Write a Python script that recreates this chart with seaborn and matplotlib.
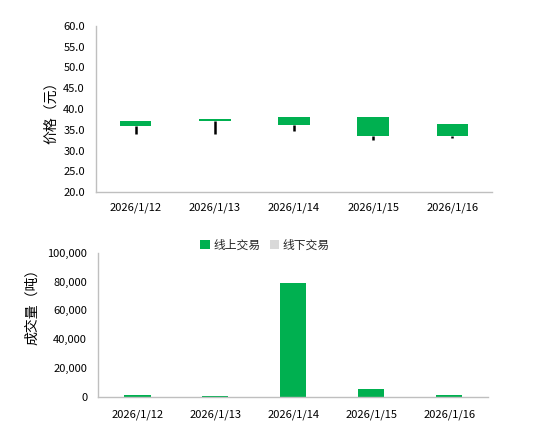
import matplotlib
matplotlib.use("Agg")
import matplotlib.pyplot as plt
import seaborn as sns
import pandas as pd
import numpy as np
from matplotlib.patches import Patch
from matplotlib.ticker import FuncFormatter, FixedLocator

sns.set_style("white")
plt.rcParams['font.family'] = ['Noto Sans CJK SC', 'DejaVu Sans']

dates = ["2026/1/12", "2026/1/13", "2026/1/14", "2026/1/15", "2026/1/16"]
box_top = [37.1, 37.6, 38.1, 38.1, 36.4]
box_bottom = [35.8, 37.2, 36.2, 33.4, 33.4]
low = [34.1, 34.1, 34.6, 32.6, 33.1]
online_vol = [1500, 900, 79000, 5500, 1500]
offline_vol = [0, 0, 0, 0, 0]

green = "#00B050"
grey_legend = "#D9D9D9"
axis_grey = "#BFBFBF"

fig = plt.figure(figsize=(5.46, 4.26), dpi=100)
ax1 = fig.add_axes([0.1758, 0.5486, 0.901 - 0.1758, 0.9397 - 0.5486])
ax2 = fig.add_axes([0.180, 0.0681, 0.894 - 0.180, 0.4068 - 0.0681])

# --- top: candle chart ---
cdf = pd.DataFrame({"date": dates,
                    "height": np.array(box_top) - np.array(box_bottom)})
sns.barplot(data=cdf, x="date", y="height", bottom=box_bottom, color=green,
            saturation=1, width=0.4, linewidth=0, ax=ax1, zorder=2)
ax1.vlines(x=np.arange(len(dates)), ymin=low, ymax=box_bottom,
           color="black", lw=1.8, zorder=1)
ax1.set_ylim(20, 60)
ax1.set_yticks(np.arange(20, 60.1, 5))
ax1.yaxis.set_major_formatter(FuncFormatter(lambda v, p: f"{v:.1f}"))
ax1.set_ylabel("价格（元）", fontsize=10, color="black")
ax1.yaxis.set_label_coords(-0.095, 0.5)

# --- bottom: volume chart ---
vdf = pd.DataFrame({"date": dates * 2,
                    "vol": online_vol + offline_vol,
                    "type": ["线上交易"] * 5 + ["线下交易"] * 5})
sns.barplot(data=vdf[vdf["type"] == "线上交易"], x="date", y="vol",
            color=green, saturation=1, width=0.34, linewidth=0, ax=ax2)
ax2.set_ylim(0, 100000)
ax2.set_yticks(np.arange(0, 100001, 20000))
ax2.yaxis.set_major_formatter(FuncFormatter(lambda v, p: f"{int(v):,}"))
ax2.set_ylabel("成交量（吨）", fontsize=10, color="black")
ax2.yaxis.set_label_coords(-0.152, 0.65)

for ax, xpad in ((ax1, 7), (ax2, 9)):
    ax.set_xlabel("")
    ax.set_xlim(-0.5, len(dates) - 0.5)
    for s in ("top", "right"):
        ax.spines[s].set_visible(False)
    for s in ("left", "bottom"):
        ax.spines[s].set_color(axis_grey)
        ax.spines[s].set_linewidth(1.0)
    ax.xaxis.set_minor_locator(FixedLocator(np.arange(-0.5, len(dates), 1)))
    ax.tick_params(axis="x", which="major", length=0, pad=xpad, labelsize=8,
                   colors="black")
    ax.tick_params(axis="x", which="minor", length=4, direction="in",
                   color=axis_grey, width=1)
    ax.tick_params(axis="y", length=4, direction="in", color=axis_grey,
                   width=1, pad=8, labelsize=8, labelcolor="black")

handles = [Patch(facecolor=green, edgecolor="none", label="线上交易"),
           Patch(facecolor=grey_legend, edgecolor="none", label="线下交易")]
fig.legend(handles=handles, loc="center", bbox_to_anchor=(0.485, 0.425),
           ncol=2, frameon=False, fontsize=8.5, handlelength=0.8,
           handleheight=0.8, handletextpad=0.3, columnspacing=0.8)

fig.savefig("out.png", dpi=100)
